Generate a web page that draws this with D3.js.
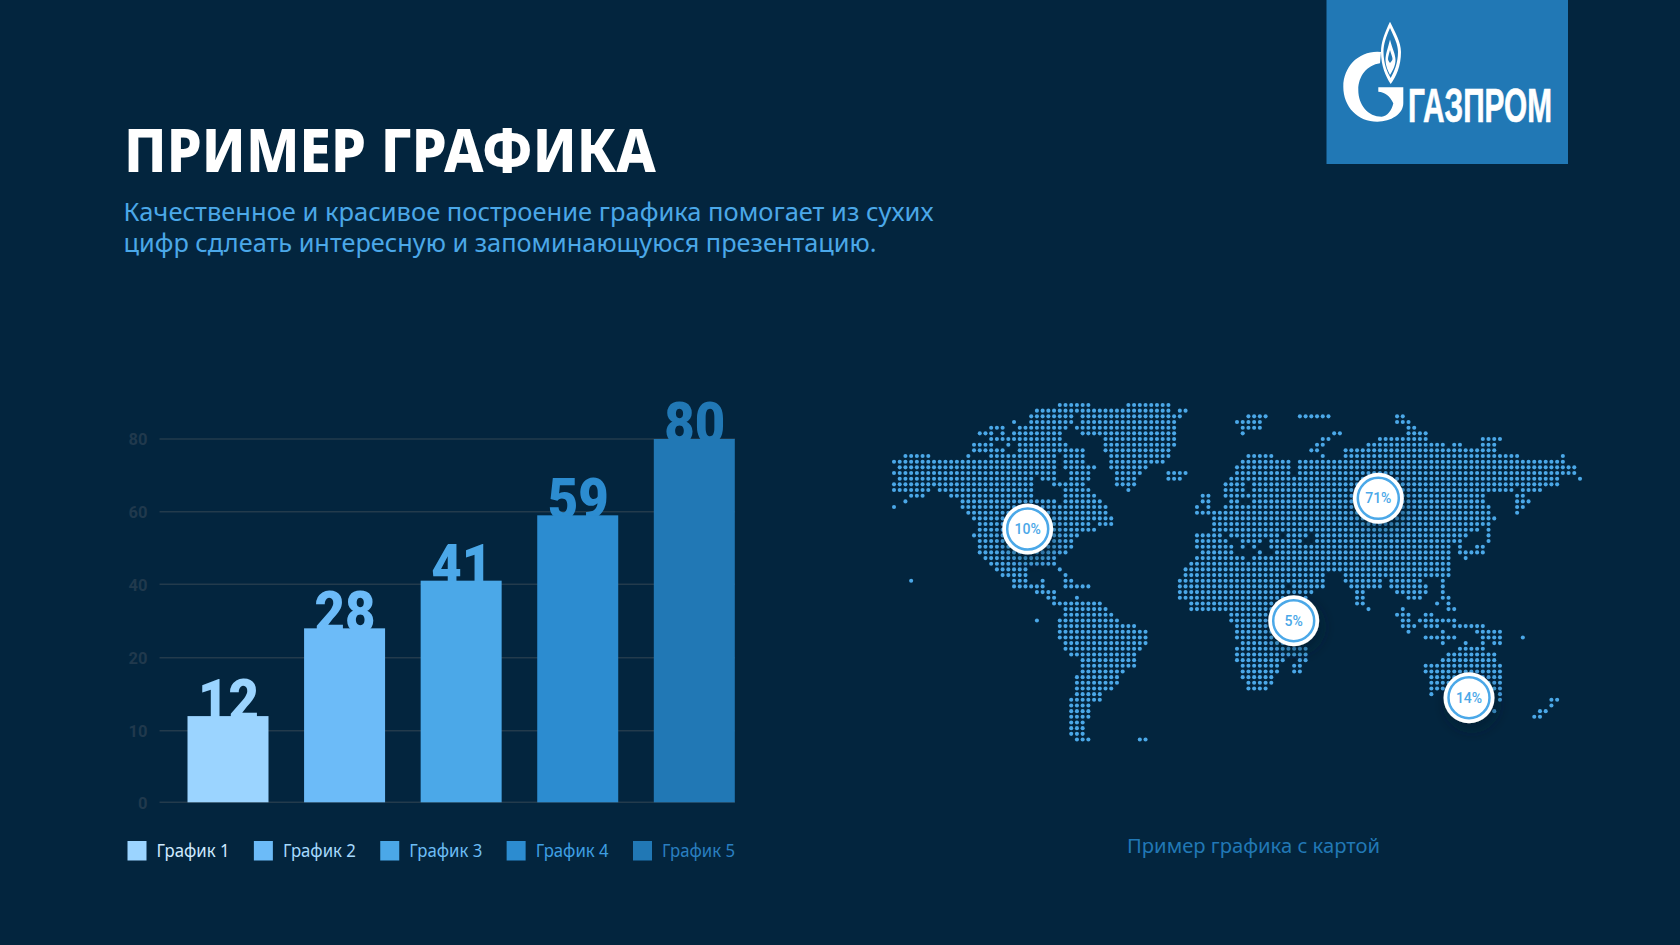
<!DOCTYPE html>
<html lang="ru"><head><meta charset="utf-8">
<script src="https://cdn.jsdelivr.net/npm/d3@7"></script>
<style>html,body{margin:0;padding:0;background:#03253e;overflow:hidden}svg{display:block}</style>
</head><body><svg id="c" width="1680" height="945"></svg>
<script>
const categories = ["График 1","График 2","График 3","График 4","График 5"];
const values = [12,28,41,59,80];
const barColors = ["#9bd4ff","#6cbbf8","#4ba8e8","#2c8cd0","#2178b5"];
const legendTextColors = ["#cfeaff","#a6dafd","#6dbdf5","#3f9fe2","#2a7fc0"];
const yTicks = [0,10,20,40,60,80];
const mapLabels = [["10%",1027.7,529],["71%",1378.3,498.3],["5%",1293.7,620.7],["14%",1469,697.7]];
const titleText = "ПРИМЕР ГРАФИКА";
const subtitleLines = ["Качественное и красивое построение графика помогает из сухих","цифр сдлеать интересную и запоминающуюся презентацию."];
const captionText = "Пример графика с картой";
const mapRows = [
[[29,34],[41,48]],
[[25,48],[50,51]],
[[24,31],[33,50],[62,65],[71,76],[88,89]],
[[21,21],[24,31],[33,49],[60,64],[88,90]],
[[17,19],[22,30],[32,49],[61,64],[90,91]],
[[15,17],[19,19],[21,29],[33,49],[61,61],[77,78],[90,93]],
[[17,29],[37,49],[75,76],[85,93],[103,106]],
[[14,17],[20,20],[22,30],[37,49],[74,75],[83,96],[98,99],[103,105]],
[[14,19],[22,33],[37,48],[73,74],[79,105]],
[[2,6],[13,13],[17,28],[30,33],[38,48],[62,66],[75,75],[79,109],[117,117]],
[[0,28],[30,33],[38,47],[61,69],[71,117]],
[[1,28],[30,35],[38,44],[60,69],[71,119]],
[[0,28],[31,34],[39,43],[48,51],[60,69],[71,119]],
[[1,24],[26,28],[31,34],[39,42],[48,50],[59,116],[120,120]],
[[0,24],[28,33],[39,42],[58,61],[63,116]],
[[0,6],[8,24],[30,34],[41,41],[58,61],[63,108],[110,113]],
[[3,5],[10,24],[30,35],[54,55],[58,103],[109,110]],
[[2,2],[12,28],[30,36],[54,55],[59,60],[63,103],[109,111]],
[[0,0],[12,37],[53,53],[55,55],[58,104],[109,110]],
[[13,37],[53,104],[109,109]],
[[14,38],[56,105]],
[[15,34],[36,38],[56,104]],
[[15,35],[56,102],[104,104]],
[[14,32],[53,57],[59,67],[69,72],[74,100],[104,104]],
[[15,31],[53,58],[61,64],[66,71],[74,99],[104,104]],
[[15,31],[53,59],[61,61],[63,63],[66,97],[99,99],[102,103]],
[[15,30],[54,59],[64,64],[67,97],[99,103]],
[[16,28],[53,61],[63,97],[100,100]],
[[17,28],[52,97]],
[[18,23],[29,29],[51,97]],
[[19,23],[30,30],[51,75],[79,97]],
[[3,3],[21,23],[26,26],[30,31],[50,75],[79,85],[87,92],[96,96]],
[[21,26],[30,34],[50,68],[70,75],[80,85],[87,93],[96,96]],
[[25,28],[50,73],[81,82],[88,93],[96,96]],
[[27,28],[32,32],[50,72],[81,82],[90,92],[96,97]],
[[28,36],[52,70],[81,82],[95,95],[97,97]],
[[30,37],[52,70],[83,83],[89,89],[97,98]],
[[30,38],[59,70],[88,90],[93,94]],
[[25,25],[29,39],[59,70],[89,90],[92,98]],
[[29,42],[60,70],[89,91],[93,95],[98,103]],
[[29,44],[60,70],[90,90],[96,96],[102,106]],
[[29,44],[60,70],[93,98],[103,106],[110,110]],
[[30,44],[61,70],[96,96],[100,100],[103,103],[105,106]],
[[30,43],[60,72],[99,103]],
[[31,42],[60,72],[97,105]],
[[33,42],[60,68],[71,72],[96,105]],
[[33,42],[61,67],[70,71],[93,106]],
[[33,40],[61,67],[70,71],[93,106]],
[[32,39],[61,66],[94,106]],
[[32,39],[62,66],[94,106]],
[[32,38],[62,65],[94,106]],
[[32,36],[94,94],[106,106]],
[[31,36],[106,106],[115,116]],
[[31,34],[115,115]],
[[31,34],[105,105],[113,114]],
[[31,34],[112,113]],
[[31,33]],
[[31,33]],
[[31,33]],
[[32,34],[43,44]]
];

const svg = d3.select("#c");
const font = "'Noto Sans',sans-serif";
const defs = svg.append("defs");
const f = defs.append("filter").attr("id","sh").attr("x","-50%").attr("y","-50%").attr("width","200%").attr("height","200%");
f.append("feDropShadow").attr("dx",3).attr("dy",6).attr("stdDeviation",7).attr("flood-color","#021a2e").attr("flood-opacity",0.55);

svg.append("rect").attr("width",1680).attr("height",945).attr("fill","#03253e");

function fit(sel,len){return sel.attr("textLength",len).attr("lengthAdjust","spacingAndGlyphs");}

// header
fit(svg.append("text").attr("x",124).attr("y",171.5).attr("font-family",font).attr("font-weight",800).attr("font-size",61).attr("fill","#fff").text(titleText),532);
subtitleLines.forEach((t,i)=>{
  fit(svg.append("text").attr("x",123.5).attr("y",[221,252][i]).attr("font-family",font).attr("font-size",24.5).attr("fill","#4ba8e8").text(t),[810,753][i]);
});

// logo
const logo = svg.append("g");
logo.append("rect").attr("x",1326.5).attr("y",0).attr("width",241.5).attr("height",164).attr("fill","#2178b5");
logo.append("path").attr("fill","#fff").attr("d","M1377.3 51.7C1358 51.7 1343.3 67 1343.3 86.7C1343.3 107 1358 121.7 1377.3 121.7C1391 121.7 1403.3 114 1403.3 103.3L1403.3 87.3L1378.3 87.3L1378.3 91.7C1385 92 1390 96 1393.3 103.3C1392 110 1387 116.7 1381.7 116.7C1368 116.7 1358.3 105 1358.3 90C1358.3 76 1367 65 1380 63.3L1381 52Z");
logo.append("path").attr("fill","#fff").attr("d","M1390 21.7C1385 32 1381 42 1381 52C1381 66 1386 77 1390.7 84C1396 77 1401 66 1401 52C1401 42 1395 32 1390 21.7Z");
logo.append("path").attr("fill","#2178b5").attr("d","M1390 28C1386 37 1383.5 44 1383.5 52C1383.5 63 1387 72 1390.7 78C1394 72 1398 63 1398 52C1398 44 1394 37 1390 28Z");
logo.append("path").attr("fill","#fff").attr("d","M1390 39.5C1388 48 1385.5 54 1385.5 60C1385.5 66 1388 71 1390 75C1392.5 71 1395.5 66 1395.5 60C1395.5 54 1392 48 1390 39.5Z");
logo.append("path").attr("fill","#2178b5").attr("d","M1390 50C1389 54 1388 57 1388 59C1388 60 1389 62 1390 63C1391 62 1392.5 60 1392.5 59C1392.5 57 1391 54 1390 50Z");
fit(logo.append("text").attr("x",1408).attr("y",122).attr("font-family","'Liberation Sans',sans-serif").attr("font-weight",700).attr("font-size",48).attr("fill","#fff").attr("stroke","#fff").attr("stroke-width",0.7).text("ГАЗПРОМ"),144);

// chart
const y = d3.scaleLinear().domain(yTicks).range([802.3,730.7,657.7,584.3,511.7,439]);
const xBars = d3.scalePoint().domain(categories).range([228,694.3]);
const barW = 81;
const yAxis = d3.axisLeft(y).tickValues(yTicks).tickSize(0).tickPadding(0);
const ax = svg.append("g").attr("transform","translate(147.5,0)").call(yAxis);
ax.select(".domain").remove();
ax.selectAll("text").attr("font-family","Roboto,sans-serif").attr("font-weight",700).attr("font-size",16.5).attr("fill","#20394d").attr("dy","0.36em").attr("x",0);
svg.append("g").selectAll("line").data(yTicks).join("line")
  .attr("x1",159.5).attr("x2",735).attr("y1",d=>y(d)).attr("y2",d=>y(d)).attr("stroke","#233b4c").attr("stroke-width",1.4);
const nums = svg.append("g").selectAll("text").data(values).join("text")
  .attr("x",(d,i)=>xBars(categories[i])+0.5).attr("y",d=>y(d)+4).attr("text-anchor","middle")
  .attr("font-family","Roboto,sans-serif").attr("font-weight",900).attr("font-size",57)
  .attr("fill",(d,i)=>barColors[i]).text(d=>d);
nums.attr("textLength",61).attr("lengthAdjust","spacingAndGlyphs");
svg.append("g").selectAll("rect").data(values).join("rect")
  .attr("x",(d,i)=>xBars(categories[i])-barW/2).attr("width",barW)
  .attr("y",d=>y(d)).attr("height",d=>y(0)-y(d)).attr("fill",(d,i)=>barColors[i]);

// legend
const lx = d3.scalePoint().domain(categories).range([127.5,633]);
const lg = svg.append("g").selectAll("g").data(categories).join("g")
  .attr("transform",c=>`translate(${lx(c)},841)`);
lg.append("rect").attr("width",19).attr("height",19.5).attr("fill",(d,i)=>barColors[i]);
lg.append("text").attr("x",29).attr("y",16).attr("font-family",font).attr("font-size",17.5)
  .attr("fill",(d,i)=>legendTextColors[i]).text(d=>d)
  .attr("textLength",73).attr("lengthAdjust","spacingAndGlyphs");

// map
const mx = d3.scaleLinear().domain([0,120]).range([894,1580]);
const my = d3.scaleLinear().domain([0,59]).range([405,739.5]);
const dots = mapRows.flatMap((runs,r)=>runs.flatMap(([a,b])=>d3.range(a,b+1).map(c=>({r,c}))));
svg.append("g").selectAll("circle").data(dots).join("circle")
  .attr("cx",d=>mx(d.c)).attr("cy",d=>my(d.r)).attr("r",2.05).attr("fill","#4ba8e8");

const pins = svg.append("g").selectAll("g").data(mapLabels).join("g")
  .attr("transform",d=>`translate(${d[1]},${d[2]})`);
pins.append("circle").attr("r",25.5).attr("fill","#fff").attr("filter","url(#sh)");
pins.append("circle").attr("r",20.5).attr("fill","#fff").attr("stroke","#4ba8e8").attr("stroke-width",2.5);
pins.append("text").attr("text-anchor","middle").attr("y",5).attr("font-family","Roboto,sans-serif").attr("font-weight",500).attr("font-size",14).attr("fill","#4ba8e8").text(d=>d[0]);

fit(svg.append("text").attr("x",1127).attr("y",852.5).attr("font-family",font).attr("font-size",20.5).attr("fill","#2178b5").text(captionText),253);
</script></body></html>
